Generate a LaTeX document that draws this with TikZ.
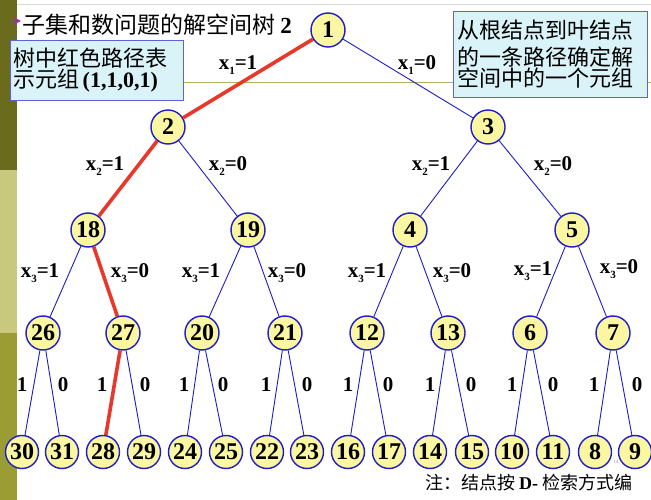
\documentclass[tikz,border=0pt]{standalone}
\usepackage{fontspec}
\setmainfont{Liberation Serif}
\newfontfamily\cjk{Noto Sans CJK SC}

\definecolor{amarillo}{HTML}{FAF6A2}
\definecolor{azul}{HTML}{1C1CC8}
\definecolor{rojo}{HTML}{E8382C}
\definecolor{celeste}{HTML}{D9F3F8}
\definecolor{olivaA}{HTML}{6B6B1E}
\definecolor{olivaB}{HTML}{C9C97E}
\definecolor{olivaC}{HTML}{9C9C34}

\tikzstyle{nodo}= [circle,draw=azul,line width=1.4pt,fill=amarillo,minimum size=34pt,inner sep=0pt,font=\fontsize{24}{24}\selectfont\bfseries]
\tikzstyle{hoja}= [nodo,minimum size=33pt]
\tikzstyle{caja}= [rectangle,draw=azul!70,line width=0.8pt,fill=celeste,align=left,inner sep=0pt]
\tikzstyle{etiq}= [font=\fontsize{21}{21}\selectfont\bfseries,inner sep=1pt]
\tikzstyle{digito}= [font=\fontsize{21}{21}\selectfont\bfseries,inner sep=1pt]
\tikzstyle{rama}= [azul,line width=0.9pt]
\tikzstyle{camino}= [rojo,line width=3.6pt]

\newcommand{\xlab}[2]{x\raisebox{-0.45ex}{\fontsize{11}{11}\selectfont #1}=#2}

\begin{document}
\begin{tikzpicture}[x=1pt,y=-1pt]
		\useasboundingbox (0,0) rectangle (651,500);
		\fill[white] (0,0) rectangle (651,500);

		% barra lateral y lineas
		\fill[olivaA] (0,0) rectangle (17,170);
		\fill[olivaB] (0,170) rectangle (17,333);
		\fill[olivaC] (0,333) rectangle (17,500);
		\draw[black!15,line width=0.8pt] (17,4) -- (651,4);
		\draw[olivaC!80,line width=0.8pt] (17,82) -- (651,82);
		\fill[violet!80] (13,17) -- (21,21) -- (13,25) -- (15,21) -- cycle;

		\node (titulo) at (22,25) [anchor=west,inner sep=0pt] {\fontsize{23}{23}\selectfont\cjk 子集和数问题的解空间树 \textrm{\bfseries 2}};

		\node (nota1) at (10,40) [caja,anchor=north west,minimum width=173pt,minimum height=60pt,text width=167pt,inner xsep=3pt]
			{\fontsize{22}{27}\selectfont\cjk 树中红色路径表\\示元组 \textrm{\bfseries (1,1,0,1)}};
		\node (nota2) at (453,11) [caja,anchor=north west,minimum width=194pt,minimum height=86pt,text width=186pt,inner xsep=4pt]
			{\fontsize{22}{27}\selectfont\cjk 从根结点到叶结点\\的一条路径确定解\\空间中的一个元组};

		% nivel 0, 1, 2
		\node (n1) at (328,30) [nodo] {1};
		\node (n2) at (168,127) [nodo] {2};
		\node (n3) at (488,127) [nodo] {3};
		\node (n18) at (88,230) [nodo] {18};
		\node (n19) at (248,230) [nodo] {19};
		\node (n4) at (410,230) [nodo] {4};
		\node (n5) at (572,230) [nodo] {5};

		% nivel 3
		\node (n26) at (43,333) [nodo] {26};
		\node (n27) at (123,333) [nodo] {27};
		\node (n20) at (202,333) [nodo] {20};
		\node (n21) at (285,333) [nodo] {21};
		\node (n12) at (367,333) [nodo] {12};
		\node (n13) at (448,333) [nodo] {13};
		\node (n6) at (530,333) [nodo] {6};
		\node (n7) at (613,333) [nodo] {7};

		% hojas
		\node (n30) at (22,452) [hoja] {30};
		\node (n31) at (62,452) [hoja] {31};
		\node (n28) at (103,452) [hoja] {28};
		\node (n29) at (144,452) [hoja] {29};
		\node (n24) at (185,452) [hoja] {24};
		\node (n25) at (226,452) [hoja] {25};
		\node (n22) at (267,452) [hoja] {22};
		\node (n23) at (307,452) [hoja] {23};
		\node (n16) at (348,452) [hoja] {16};
		\node (n17) at (389,452) [hoja] {17};
		\node (n14) at (430,452) [hoja] {14};
		\node (n15) at (472,452) [hoja] {15};
		\node (n10) at (512,452) [hoja] {10};
		\node (n11) at (553,452) [hoja] {11};
		\node (n8) at (595,452) [hoja] {8};
		\node (n9) at (635,452) [hoja] {9};

		% etiquetas de las ramas
		\node (e11) at (238,65) [etiq] {\xlab{1}{1}};
		\node (e10) at (417,65) [etiq] {\xlab{1}{0}};
		\node (e21a) at (105,166) [etiq] {\xlab{2}{1}};
		\node (e20a) at (228,166) [etiq] {\xlab{2}{0}};
		\node (e21b) at (431,166) [etiq] {\xlab{2}{1}};
		\node (e20b) at (553,166) [etiq] {\xlab{2}{0}};
		\node (e31a) at (40,273) [etiq] {\xlab{3}{1}};
		\node (e30a) at (130,273) [etiq] {\xlab{3}{0}};
		\node (e31b) at (201,273) [etiq] {\xlab{3}{1}};
		\node (e30b) at (287,273) [etiq] {\xlab{3}{0}};
		\node (e31c) at (367,273) [etiq] {\xlab{3}{1}};
		\node (e30c) at (452,273) [etiq] {\xlab{3}{0}};
		\node (e31d) at (533,271) [etiq] {\xlab{3}{1}};
		\node (e30d) at (619,269) [etiq] {\xlab{3}{0}};

		\foreach \uno/\cero in {22/63,102/145,184/223,266/307,348/388,430/471,512/553,594/637}
			{\node at (\uno,385) [digito] {1};
			 \node at (\cero,385) [digito] {0};}

		% ramas
		\path[rama] (n1) edge (n3);
		\path[rama] (n2) edge (n19);
		\path[rama] (n3) edge (n4);
		\path[rama] (n3) edge (n5);
		\path[rama] (n18) edge (n26);
		\path[rama] (n19) edge (n20);
		\path[rama] (n19) edge (n21);
		\path[rama] (n4) edge (n12);
		\path[rama] (n4) edge (n13);
		\path[rama] (n5) edge (n6);
		\path[rama] (n5) edge (n7);
		\path[rama] (n26) edge (n30);
		\path[rama] (n26) edge (n31);
		\path[rama] (n27) edge (n29);
		\path[rama] (n20) edge (n24);
		\path[rama] (n20) edge (n25);
		\path[rama] (n21) edge (n22);
		\path[rama] (n21) edge (n23);
		\path[rama] (n12) edge (n16);
		\path[rama] (n12) edge (n17);
		\path[rama] (n13) edge (n14);
		\path[rama] (n13) edge (n15);
		\path[rama] (n6) edge (n10);
		\path[rama] (n6) edge (n11);
		\path[rama] (n7) edge (n8);
		\path[rama] (n7) edge (n9);

		% camino rojo (1,1,0,1)
		\path[camino] (n1) edge (n2);
		\path[camino] (n2) edge (n18);
		\path[camino] (n18) edge (n27);
		\path[camino] (n27) edge (n28);

		\node (pag) at (616,462) [font=\tiny,text=black!40] {14};
		\node (nota3) at (425,483) [anchor=west,inner sep=0pt] {\fontsize{18}{18}\selectfont\cjk 注：结点按 \textrm{\bfseries D-} 检索方式编};
\end{tikzpicture}
\end{document}
